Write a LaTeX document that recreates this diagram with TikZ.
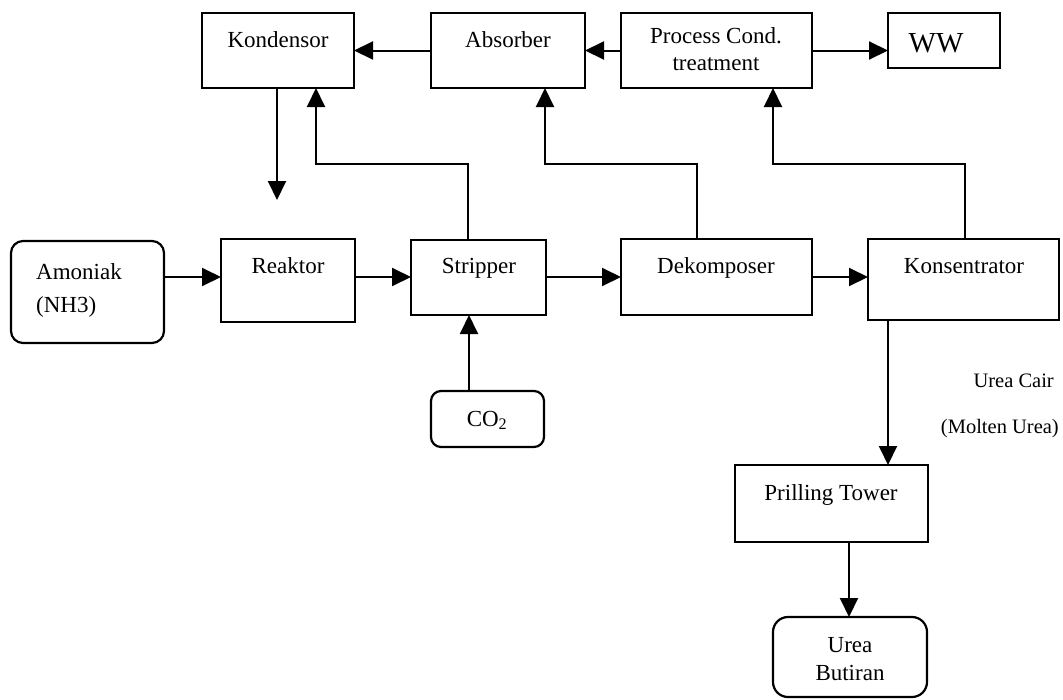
\documentclass[tikz,border=0pt]{standalone}
\usepackage{fontspec}
\setmainfont{Liberation Serif}
\usetikzlibrary{arrows.meta,fit}
\begin{document}
\begin{tikzpicture}[x=1pt,y=-1pt,
  blk/.style={draw, line width=2.2pt, inner sep=0pt, outer sep=0pt},
  rblk/.style={blk, rounded corners=12pt},
  txt/.style={anchor=base, inner sep=0pt, font=\fontsize{23}{27}\selectfont},
  small/.style={txt, font=\fontsize{20.5}{24}\selectfont},
  flow/.style={line width=2pt, -{Triangle[length=19pt,width=18pt]}}]
\useasboundingbox (0,0) rectangle (1063,699);

% process units
\node[blk, fit={(202,13)(354,88)}] (kond) {};
\node[blk, fit={(431,13)(585,88)}] (abs) {};
\node[blk, fit={(621,13)(812,88)}] (pct) {};
\node[blk, fit={(888,13)(1000,68)}] (ww) {};
\node[rblk, fit={(11,241)(164,343)}] (amo) {};
\node[blk, fit={(221,239)(355,322)}] (rea) {};
\node[blk, fit={(411,240)(546,315)}] (str) {};
\node[blk, fit={(621,239)(812,315)}] (dek) {};
\node[blk, fit={(868,239)(1059,320)}] (kon) {};
\node[rblk, rounded corners=10pt, fit={(431,391)(544,447)}] (co2) {};
\node[blk, fit={(735,465)(928,542)}] (pri) {};
\node[rblk, rounded corners=15pt, fit={(773,617)(927,697)}] (ure) {};

% labels
\node[txt] (tkond) at (278,47) {Kondensor};
\node[txt] (tabs) at (508,47) {Absorber};
\node[txt] (tpct1) at (716,43) {Process Cond.};
\node[txt] (tpct2) at (716,70) {treatment};
\node[txt, font=\fontsize{29}{34}\selectfont] (tww) at (936,52) {WW};
\node[txt, anchor=base west] (tamo1) at (36,279) {Amoniak};
\node[txt, anchor=base west] (tamo2) at (36,312) {(NH3)};
\node[txt] (trea) at (288,273) {Reaktor};
\node[txt] (tstr) at (479,273) {Stripper};
\node[txt] (tdek) at (716,273) {Dekomposer};
\node[txt] (tkon) at (964,273) {Konsentrator};
\node[txt] (tco2) at (487,426) {CO\textsubscript{2}};
\node[small, anchor=base east] (tuc) at (1054,387) {Urea Cair};
\node[small, anchor=base east] (tmu) at (1059,433) {(Molten Urea)};
\node[txt] (tpri) at (831,500) {Prilling Tower};
\node[txt] (tu1) at (850,652) {Urea};
\node[txt] (tu2) at (850,680) {Butiran};

% routing points
\coordinate (kdown) at (277,200);
\coordinate (s1) at (468,164);
\coordinate (s2) at (316,164);
\coordinate (d1) at (697,164);
\coordinate (d2) at (545,164);
\coordinate (k1) at (965,164);
\coordinate (k2) at (773,164);
\coordinate (row) at (0,277);
\coordinate (cx) at (469,0);
\coordinate (px) at (888,0);
\coordinate (ux) at (849,0);

% top row
\draw[flow] (abs.west) -- (kond.east);
\draw[flow] (pct.west) -- (abs.east);
\draw[flow] (pct.east) -- (pct.east -| ww.west);
\draw[flow] (kond.south -| kdown) -- (kdown);

% vapour returns
\draw[flow] (str.north -| s1) -- (s1) -- (s2) -- (s2 |- kond.south);
\draw[flow] (dek.north -| d1) -- (d1) -- (d2) -- (d2 |- abs.south);
\draw[flow] (kon.north -| k1) -- (k1) -- (k2) -- (k2 |- pct.south);

% main line
\draw[flow] (amo.east |- row) -- (rea.west |- row);
\draw[flow] (rea.east |- row) -- (str.west |- row);
\draw[flow] (str.east |- row) -- (dek.west |- row);
\draw[flow] (dek.east |- row) -- (kon.west |- row);
\draw[flow] (co2.north -| cx) -- (str.south -| cx);
\draw[flow] (kon.south -| px) -- (pri.north -| px);
\draw[flow] (pri.south -| ux) -- (ure.north -| ux);
\end{tikzpicture}
\end{document}
